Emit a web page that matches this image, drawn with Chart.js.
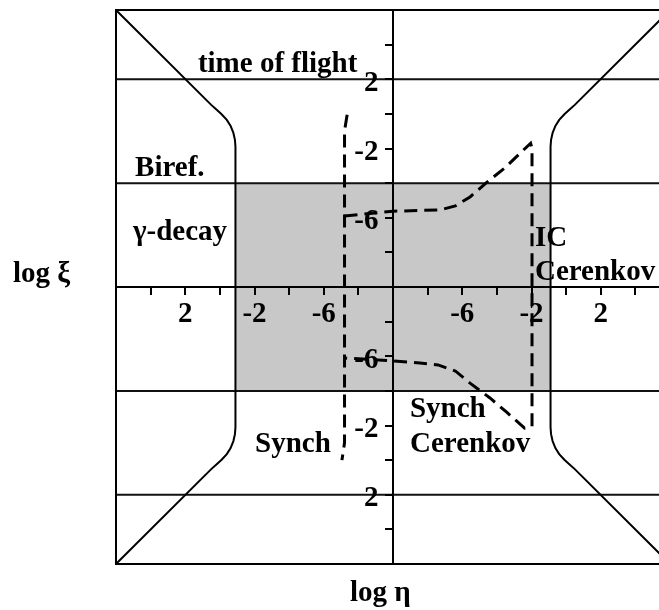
<!DOCTYPE html>
<html>
<head>
<meta charset="utf-8">
<script src="https://cdn.jsdelivr.net/npm/chart.js@4"></script>
<style>
  html, body { margin: 0; padding: 0; background: #fff; overflow: hidden; }
</style>
</head>
<body>
<canvas id="regionChart" width="670" height="610"></canvas>
<script>
// axes run from the centre (log = -10) outwards to 6 in each direction
const tickPos = [-12, -8, -4, 4, 8, 12];
const tickText = ['2', '-2', '-6', '-6', '-2', '2'];

// horizontal guide lines (xi)
const guideY = [12, 6, -6, -12];

// shaded allowed region
const shadeX = [-9.1, 9.1];
const shadeTop = 6;
const shadeBottom = -6;

// solid boundary curves
const leftEdgeX = [-16, -10.5, -10.2, -9.9, -9.6, -9.38, -9.22, -9.13, -9.1, -9.1, -9.13, -9.22, -9.38, -9.6, -9.9, -10.2, -10.5, -16];
const leftEdgeY = [16, 10.52, 10.25, 9.98, 9.65, 9.3, 8.9, 8.5, 8.1, -8.1, -8.5, -8.9, -9.3, -9.65, -9.98, -10.25, -10.52, -16];
const rightEdgeX = [16, 10.5, 10.2, 9.9, 9.6, 9.38, 9.22, 9.13, 9.1, 9.1, 9.13, 9.22, 9.38, 9.6, 9.9, 10.2, 10.5, 16];
const rightEdgeY = [16, 10.52, 10.25, 9.98, 9.65, 9.3, 8.9, 8.5, 8.1, -8.1, -8.5, -8.9, -9.3, -9.65, -9.98, -10.25, -10.52, -16];

// dashed limits
const synchX = [-2.65, -2.8, -2.8, -2.95];
const synchY = [9.95, 9.0, -9.0, -10.0];
const cerenkovX = [-2.8, 0, 2.7, 3.6, 4.45, 5.45, 6.45, 7.35, 7.95, 8.03, 8.03, 7.6, 6.55, 5.6, 4.45, 3.6, 2.6, 1.55, 0, -2.8];
const cerenkovY = [4.1, 4.38, 4.45, 4.68, 5.2, 6.07, 6.87, 7.74, 8.3, 8.0, -8.05, -8.15, -7.22, -6.41, -5.55, -4.85, -4.5, -4.39, -4.27, -4.1];

// region labels (left edge, baseline)
const noteText = ['time of flight', 'Biref.', 'γ-decay', 'IC', 'Cerenkov', 'Synch', 'Synch', 'Cerenkov'];
const noteX = [-11.27, -14.9, -15.02, 8.2, 8.2, -7.97, 0.98, 0.98];
const noteY = [12.42, 6.41, 2.72, 2.37, 0.4, -9.53, -7.51, -9.53];

// axis titles
const axisTitleText = ['log ξ', 'log η'];
const axisTitleX = [-21.95, -2.48];
const axisTitleY = [0.29, -18.14];

const serif = "'Liberation Serif', 'Times New Roman', serif";
const toPoints = (xs, ys) => xs.map((x, i) => ({ x: x, y: ys[i] }));

const datasets = [
    {
        data: toPoints(cerenkovX, cerenkovY),
        borderColor: '#000', borderWidth: 3, borderDash: [13, 7]
    },
    {
        data: toPoints(synchX, synchY),
        borderColor: '#000', borderWidth: 3, borderDash: [13, 7]
    },
    {
        data: toPoints(leftEdgeX, leftEdgeY),
        borderColor: '#000', borderWidth: 2
    },
    {
        data: toPoints(rightEdgeX, rightEdgeY),
        borderColor: '#000', borderWidth: 2
    }
];

guideY.forEach(y => {
    datasets.push({
        data: [{ x: -16, y: y }, { x: 16, y: y }],
        borderColor: '#111', borderWidth: 2
    });
});

// shaded box goes last so it is drawn underneath everything
datasets.push({
    data: shadeX.map(x => ({ x: x, y: shadeTop })),
    borderWidth: 0,
    borderColor: 'rgba(0,0,0,0)',
    backgroundColor: '#c8c8c8',
    fill: { value: shadeBottom }
});

datasets.forEach(d => { d.showLine = true; d.pointRadius = 0; });

const tickLabel = v => {
    const i = tickPos.indexOf(v);
    return i >= 0 ? tickText[i] : '';
};
// centred y axis puts right-aligned labels on the axis itself, so pad them
const tickLabelY = v => {
    const t = tickLabel(v);
    return t ? t + '  ' : '';
};

// frame and text labels
const framePlugin = {
    id: 'frame',
    afterDraw(chart) {
        const { ctx, chartArea, scales } = chart;
        ctx.save();
        ctx.strokeStyle = '#000';
        ctx.lineWidth = 2;
        ctx.strokeRect(chartArea.left, chartArea.top, chartArea.right - chartArea.left, chartArea.bottom - chartArea.top);

        ctx.fillStyle = '#000';
        ctx.font = 'bold 29px ' + serif;
        ctx.textAlign = 'left';
        ctx.textBaseline = 'alphabetic';
        noteText.forEach((t, i) => {
            ctx.fillText(t, scales.x.getPixelForValue(noteX[i]), scales.y.getPixelForValue(noteY[i]));
        });
        axisTitleText.forEach((t, i) => {
            ctx.fillText(t, scales.x.getPixelForValue(axisTitleX[i]), scales.y.getPixelForValue(axisTitleY[i]));
        });
        ctx.restore();
    }
};

const axisStyle = {
    type: 'linear',
    min: -16,
    max: 16,
    grid: { drawOnChartArea: false, drawTicks: true, tickLength: 7, color: '#000', lineWidth: 2, z: 1 },
    border: { display: true, color: '#000', width: 2, z: 1 },
    ticks: {
        stepSize: 2,
        autoSkip: false,
        maxRotation: 0,
        color: '#000',
        z: 1,
        font: { family: serif, size: 29, weight: 'bold' },
        callback: tickLabel
    }
};

new Chart(document.getElementById('regionChart').getContext('2d'), {
    type: 'scatter',
    data: { datasets: datasets },
    options: {
        responsive: false,
        animation: false,
        layout: { padding: { left: 116, top: 10, right: 0, bottom: 46 } },
        plugins: {
            legend: { display: false },
            tooltip: { enabled: false }
        },
        elements: { line: { tension: 0 } },
        scales: {
            x: Object.assign({}, axisStyle, {
                position: { y: 0 },
                afterFit: s => { s.height = 0; s.paddingLeft = 0; s.paddingRight = 0; },
                ticks: Object.assign({}, axisStyle.ticks, { padding: 3 })
            }),
            y: Object.assign({}, axisStyle, {
                position: { x: 0 },
                afterFit: s => { s.width = 0; s.paddingTop = 0; s.paddingBottom = 0; },
                ticks: Object.assign({}, axisStyle.ticks, { padding: 6, labelOffset: 4, callback: tickLabelY })
            })
        }
    },
    plugins: [framePlugin]
});
</script>
</body>
</html>
